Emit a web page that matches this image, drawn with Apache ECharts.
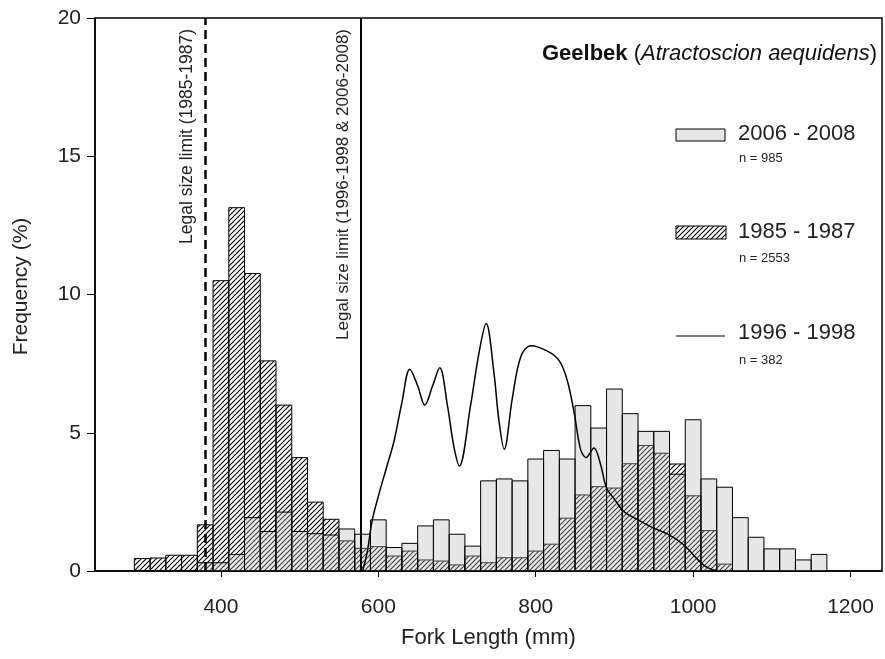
<!DOCTYPE html>
<html><head><meta charset="utf-8">
<script src="https://cdn.jsdelivr.net/npm/echarts@6/dist/echarts.min.js"></script>
<style>html,body{margin:0;padding:0;background:#fff}#c{width:885px;height:659px}</style>
</head><body><div id="c"></div>
<script>
// ---- data ----
const bins2006 = [380,400,420,440,460,480,500,520,540,560,580,600,620,640,660,680,700,720,740,760,780,800,820,840,860,880,900,920,940,960,980,1000,1020,1040,1060,1080,1100,1120,1140,1160];
const freq2006 = [0.3,0.3,0.6,1.93,1.43,2.13,1.43,1.35,1.3,1.52,1.33,1.85,0.85,1.0,1.63,1.85,1.33,0.9,3.26,3.33,3.26,4.05,4.36,4.05,5.98,5.17,6.58,5.69,5.05,5.05,3.5,5.47,3.33,3.03,1.93,1.22,0.8,0.8,0.4,0.6];
const bins1985 = [300,320,340,360,380,400,420,440,460,480,500,520,540,560,580,600,620,640,660,680,700,720,740,760,780,800,820,840,860,880,900,920,940,960,980,1000,1020,1040];
const freq1985 = [0.45,0.47,0.57,0.57,1.67,10.5,13.14,10.76,7.6,6.0,4.1,2.49,1.87,1.09,0.82,0.88,0.54,0.72,0.4,0.36,0.22,0.54,0.3,0.48,0.48,0.72,0.97,1.91,2.75,3.05,3.0,3.88,4.54,4.26,3.87,2.72,1.46,0.25];
const len1996 = [580,586,592,600,610,620,630,640,650,659,669,678,688,696,703,717,728,737,747,753,760,770,781,794,815,830,840,849,857,864,874,882,890,900,912,930,950,970,988,1003,1015,1030];
const freq1996 = [0,0.7,1.8,2.7,3.7,4.7,6.1,7.3,6.7,6.0,6.7,7.35,5.95,4.5,3.8,5.95,7.9,8.95,7.15,5.5,4.4,6.2,7.75,8.15,7.95,7.6,6.9,5.7,4.4,4.1,4.45,3.9,3.0,2.6,2.15,1.85,1.55,1.3,0.95,0.5,0.18,0];
const xTicks = [400,600,800,1000,1200];
const binWidth = 20;
const limitOld = 380, limitNew = 578;

const FONT = '"Liberation Sans", Arial, sans-serif';

function hatchPattern(){
  const s = 5;
  const c = document.createElement('canvas'); c.width = s; c.height = s;
  const g = c.getContext('2d');
  g.strokeStyle = '#000'; g.lineWidth = 1.1;
  g.beginPath();
  for (let k = -1; k <= 1; k++) { g.moveTo(k*s - 1, s + 1); g.lineTo(k*s + s + 1, -1); }
  g.stroke();
  return {image: c, repeat: 'repeat'};
}
const HATCH = hatchPattern();
const GREY = 'rgba(185,185,185,0.35)';

function barRenderer(fill){
  return function(params, api){
    const c = api.value(0), v = api.value(1);
    const p0 = api.coord([c - binWidth/2, v]);
    const p1 = api.coord([c + binWidth/2, 0]);
    return {type:'rect', shape:{x:p0[0], y:p0[1], width:p1[0]-p0[0], height:p1[1]-p0[1]},
      style:{fill: fill, stroke:'#000', lineWidth:1}};
  };
}

const chart = echarts.init(document.getElementById('c'), null, {renderer:'canvas'});
chart.setOption({
  animation:false,
  backgroundColor:'#fff',
  textStyle:{fontFamily:FONT},
  grid:{left:95, right:3, top:18, bottom:88, show:true, borderColor:'#000', borderWidth:1.5, backgroundColor:'transparent'},
  title:{
    text:'{b|Geelbek} ({i|Atractoscion aequidens})',
    right:3, top:38,
    textStyle:{fontFamily:FONT, fontSize:22, fontWeight:'normal', color:'#111',
      rich:{b:{fontFamily:FONT, fontSize:22, fontWeight:'bold', color:'#111'}, i:{fontFamily:FONT, fontSize:22, fontStyle:'italic', color:'#111'}}}
  },
  xAxis:{type:'value', min:240, max:1240,
    name:'Fork Length (mm)', nameLocation:'middle', nameGap:56,
    nameTextStyle:{fontFamily:FONT, fontSize:22, color:'#222'},
    axisLine:{show:true, lineStyle:{color:'#000', width:1.5}},
    axisTick:{show:true, length:6, lineStyle:{color:'#000'}, customValues:xTicks},
    axisLabel:{fontFamily:FONT, fontSize:21, color:'#222', margin:26, customValues:xTicks, formatter:(v)=>String(v)},
    splitLine:{show:false}},
  yAxis:{type:'value', min:0, max:20, interval:5,
    name:'Frequency (%)', nameLocation:'middle', nameGap:63,
    nameTextStyle:{fontFamily:FONT, fontSize:21, color:'#222', padding:[0,0,0,16]},
    axisLine:{show:true, lineStyle:{color:'#000', width:1.5}},
    axisTick:{show:true, length:8, lineStyle:{color:'#000'}},
    axisLabel:{fontFamily:FONT, fontSize:21, color:'#222', margin:14, formatter:(v)=>String(v)},
    splitLine:{show:false}},
  series:[
    {type:'custom', name:'1985 - 1987', renderItem:barRenderer(HATCH), data:bins1985.map((c,i)=>[c,freq1985[i]]), z:2},
    {type:'custom', name:'2006 - 2008', renderItem:barRenderer(GREY), data:bins2006.map((c,i)=>[c,freq2006[i]]), z:3},
    {type:'line', name:'1996 - 1998', data:len1996.map((x,i)=>[x,freq1996[i]]), smooth:0.35, showSymbol:false,
      lineStyle:{color:'#000', width:1.5}, z:4,
      markLine:{silent:true, symbol:['none','none'], animation:false,
        data:[
          {xAxis:limitOld, lineStyle:{color:'#000', width:2.5, type:[9,5]},
           label:{show:true, position:'insideEndTop', formatter:'Legal size limit (1985-1987)', fontFamily:FONT, fontSize:17.5, color:'#222', distance:[11,9]}},
          {xAxis:limitNew, lineStyle:{color:'#000', width:2, type:'solid'},
           label:{show:true, position:'insideEndTop', formatter:'Legal size limit (1996-1998 & 2006-2008)', fontFamily:FONT, fontSize:17, color:'#222', distance:[11,9]}}
        ]}}
  ],
  graphic:[
    {type:'rect', shape:{x:676, y:129, width:49, height:12}, style:{fill:'#e6e6e6', stroke:'#000', lineWidth:1}},
    {type:'text', x:738, y:134, style:{text:'2006 - 2008', font:'22px '+FONT, fill:'#222', verticalAlign:'middle'}},
    {type:'text', x:739, y:158, style:{text:'n = 985', font:'13px '+FONT, fill:'#222', verticalAlign:'middle'}},
    {type:'rect', shape:{x:676, y:226, width:50, height:13}, style:{fill:HATCH, stroke:'#000', lineWidth:1}},
    {type:'text', x:738, y:232, style:{text:'1985 - 1987', font:'22px '+FONT, fill:'#222', verticalAlign:'middle'}},
    {type:'text', x:739, y:258, style:{text:'n = 2553', font:'13px '+FONT, fill:'#222', verticalAlign:'middle'}},
    {type:'line', shape:{x1:676, y1:336, x2:725, y2:336}, style:{stroke:'#000', lineWidth:1.2}},
    {type:'text', x:738, y:333, style:{text:'1996 - 1998', font:'22px '+FONT, fill:'#222', verticalAlign:'middle'}},
    {type:'text', x:739, y:360, style:{text:'n = 382', font:'13px '+FONT, fill:'#222', verticalAlign:'middle'}}
  ]
});
</script></body></html>
